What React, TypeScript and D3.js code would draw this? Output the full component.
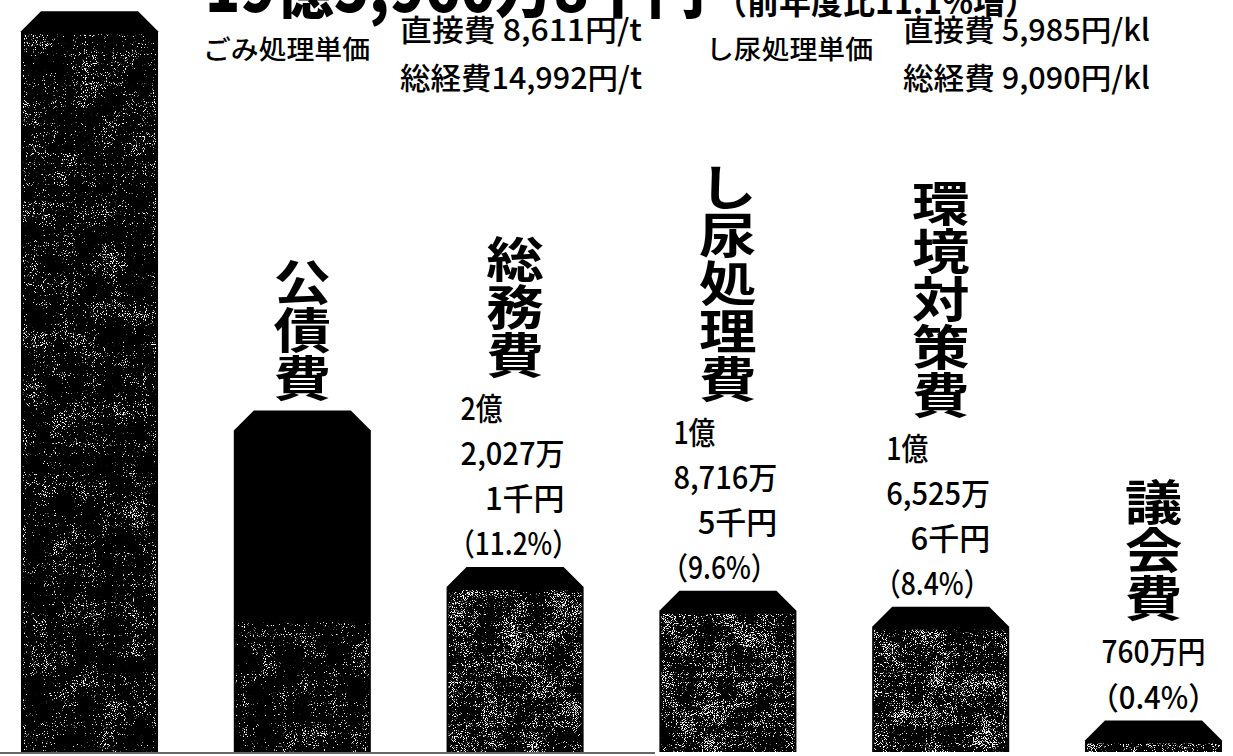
import React from "react";
import * as d3 from "d3";

// ---- data ----
const categories = ["ごみ処理費", "公債費", "総務費", "し尿処理費", "環境対策費", "議会費"];
// amounts in 万円 (first two)
const amounts = [99000, 43700, 22027.1, 18716.5, 16525.6, 760];
const showCategory = [false, true, true, true, true, true];
const amountLines = [[], [], ["2億", "2,027万", "1千円"], ["1億", "8,716万", "5千円"], ["1億", "6,525万", "6千円"], ["760万円"]];
const shareLabels = ["", "", "（11.2%）", "（9.6%）", "（8.4%）", "（0.4%）"];
const titleAmount = "19億5,960万8千円";
const titleNote = "（前年度比11.1%増）";
const unitHeads = ["ごみ処理単価", "し尿処理単価"];
const unitDirect = ["直接費 8,611円/t", "直接費 5,985円/kl"];
const unitTotal = ["総経費14,992円/t", "総経費 9,090円/kl"];

const W = 1233;
const H = 756;
const BASE = 752;
const FONT = "'Noto Sans CJK JP', 'Noto Sans', sans-serif";

function SpeckleFilter({ id, seed, intercept }: { id: string; seed: number; intercept: number }) {
  return (
    <filter id={id} x="0" y="0" width="1" height="1" colorInterpolationFilters="sRGB">
      <feTurbulence type="fractalNoise" baseFrequency="1.1" numOctaves={1} seed={seed} result="n0" />
      <feColorMatrix in="n0" type="matrix" values="1 0 0 0 0  0 1 0 0 0  0 0 1 0 0  0 0 0 0 1" result="n" />
      <feTurbulence type="fractalNoise" baseFrequency="0.04" numOctaves={2} seed={seed + 7} result="m0" />
      <feColorMatrix in="m0" type="matrix" values="1 0 0 0 0  0 1 0 0 0  0 0 1 0 0  0 0 0 0 1" result="m" />
      <feComposite in="n" in2="m" operator="arithmetic" k1={0} k2={1} k3={0.35} k4={-0.175} result="nm" />
      <feColorMatrix in="nm" type="matrix" values="0 0 0 0 1  0 0 0 0 1  0 0 0 0 1  1 0 0 0 0" result="a" />
      <feComponentTransfer in="a" result="dots">
        <feFuncA type="linear" slope={14} intercept={intercept} />
      </feComponentTransfer>
      <feComposite in="dots" in2="SourceAlpha" operator="in" result="d2" />
      <feMerge>
        <feMergeNode in="SourceGraphic" />
        <feMergeNode in="d2" />
      </feMerge>
    </filter>
  );
}

export default function App() {
  const x = d3.scaleBand<string>().domain(categories).range([21, 1222]).paddingInner(0.356).paddingOuter(0);
  const y = d3.scaleLinear().domain([0, 100000]).range([BASE - 26, BASE - 26 - 722]);
  const bw = x.bandwidth();
  const C = 20;

  const barPath = (x0: number, top: number) => {
    const p = d3.path();
    const x1 = x0 + bw;
    p.moveTo(x0, BASE);
    p.lineTo(x0, top + C);
    p.lineTo(x0 + C, top);
    p.lineTo(x1 - C, top);
    p.lineTo(x1, top + C);
    p.lineTo(x1, BASE);
    p.closePath();
    return p.toString();
  };

  return (
    <svg width={W} height={H} style={{ position: "absolute", left: 0, top: 0, background: "#fff" }} fontFamily={FONT}>
      <defs>
        <SpeckleFilter id="speckleLight" seed={3} intercept={-9.1} />
        <SpeckleFilter id="speckleHeavy" seed={11} intercept={-8.3} />
      </defs>

      {/* title (cut at the top edge) */}
      <text x={205} y={12} fontSize={64} fontWeight={900} textLength={500} lengthAdjust="spacingAndGlyphs">{titleAmount}</text>
      <text x={715} y={14} fontSize={33} fontWeight={700} textLength={322} lengthAdjust="spacingAndGlyphs">{titleNote}</text>

      {/* unit cost notes */}
      {[0, 1].map((i) => {
        const hx = i === 0 ? 203 : 706;
        const vx = i === 0 ? 400 : 903;
        return (
          <g key={"u" + i} fontWeight={500}>
            <text x={hx} y={59} fontSize={26} textLength={167} lengthAdjust="spacingAndGlyphs">{unitHeads[i]}</text>
            <text x={vx} y={41} fontSize={30} textLength={i === 0 ? 242 : 247} lengthAdjust="spacingAndGlyphs">{unitDirect[i]}</text>
            <text x={vx} y={89} fontSize={30} textLength={i === 0 ? 242 : 247} lengthAdjust="spacingAndGlyphs">{unitTotal[i]}</text>
          </g>
        );
      })}

      {/* baseline */}
      <line x1={0} x2={655} y1={BASE + 1} y2={BASE + 1} stroke="#666" strokeWidth={2} />

      {/* bars */}
      {categories.map((c, i) => {
        const x0 = x(c)!;
        const top = y(amounts[i]);
        const sTop = i === 1 ? top + (BASE - top) * 0.62 : top + C + 3;
        return (
          <g key={c}>
            <path d={barPath(x0, top)} fill="#000" />
            <rect x={x0 + 2} y={sTop} width={bw - 4} height={BASE - sTop} fill="#000" filter={i < 2 ? "url(#speckleLight)" : "url(#speckleHeavy)"} />
          </g>
        );
      })}

      {/* value labels */}
      {categories.map((c, i) => {
        const x0 = x(c)!;
        const top = y(amounts[i]);
        const lines = amountLines[i];
        if (!shareLabels[i]) return null;
        const pctBase = top - 12;
        if (lines.length === 1) {
          const cx = x0 + bw / 2;
          return (
            <g key={"v" + c} fontSize={31} fontWeight={500} textAnchor="middle">
              <text x={cx} y={pctBase - 46} textLength={104} lengthAdjust="spacingAndGlyphs">{lines[0]}</text>
              <text x={cx} y={pctBase} textLength={128} lengthAdjust="spacingAndGlyphs">{shareLabels[i]}</text>
            </g>
          );
        }
        return (
          <g key={"v" + c} fontSize={31} fontWeight={500}>
            <text x={x0 + 14} y={pctBase - 45 * 3} textLength={42} lengthAdjust="spacingAndGlyphs">{lines[0]}</text>
            <text x={x0 + 14} y={pctBase - 45 * 2} textLength={104} lengthAdjust="spacingAndGlyphs">{lines[1]}</text>
            <text x={x0 + 118} y={pctBase - 45} textAnchor="end">{lines[2]}</text>
            <text x={x0 + 2} y={pctBase} textLength={i === 2 ? 130 : 116} lengthAdjust="spacingAndGlyphs">{shareLabels[i]}</text>
          </g>
        );
      })}

      {/* vertical category labels */}
      {categories.map((c, i) => {
        if (!showCategory[i]) return null;
        const cx = x(c)! + bw / 2;
        const top = y(amounts[i]);
        const nLines = amountLines[i].length + (shareLabels[i] ? 1 : 0);
        const lastCenter = top - 35 - 45 * nLines;
        const chars = Array.from(c);
        const pitch = 48;
        return (
          <g key={"c" + c}>
            {chars.map((ch, k) => {
              const cy = lastCenter - (chars.length - 1 - k) * pitch;
              return (
                <text key={k} transform={`translate(${cx},${cy}) scale(1.2,1)`} textAnchor="middle" dominantBaseline="central" fontSize={48} fontWeight={700}>
                  {ch}
                </text>
              );
            })}
          </g>
        );
      })}
    </svg>
  );
}
